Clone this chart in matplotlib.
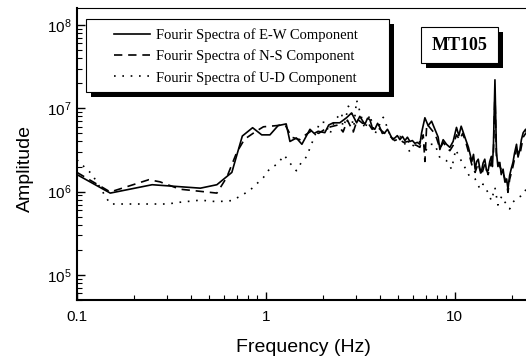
import matplotlib
matplotlib.use("Agg")
import matplotlib.pyplot as plt
from matplotlib.patches import Rectangle
from matplotlib.ticker import NullFormatter

plt.rcParams["font.family"] = ["Liberation Sans", "DejaVu Sans"]
plt.rcParams["mathtext.default"] = "regular"

# E-W component (Hz, amplitude)
freq_ew = [0.10, 0.15, 0.25, 0.45, 0.55, 0.66, 0.75, 0.85, 0.95, 1.05, 1.16, 1.28, 1.34, 1.45, 1.55,
           1.71, 1.80, 1.89, 2.05, 2.15, 2.27, 2.46, 2.67, 2.84, 3.02, 3.14, 3.34, 3.45, 3.55, 3.66,
           3.77, 3.90, 4.01, 4.13, 4.26, 4.40, 4.53, 4.67, 4.81, 4.96, 5.12, 5.28, 5.44, 5.61, 5.78,
           5.96, 6.14, 6.33, 6.53, 6.67, 6.94, 7.22, 7.53, 7.84, 8.16, 8.33, 8.67, 9.03, 9.41, 9.79,
           10.2, 10.5, 10.8, 11.3, 11.8, 12.0, 12.3, 12.55, 12.8, 13.05, 13.3, 13.55, 13.8, 14.1, 14.4,
           14.7, 15.0, 15.3, 15.6, 15.8, 16.0, 16.3, 16.6, 16.9, 17.3, 17.6, 18.0, 18.4, 18.8, 19.1,
           19.5, 19.9, 20.3, 20.7, 21.2, 21.6, 22.1, 22.5, 23.0, 23.7, 24.3, 25.0]
amp_ew = [1.60e6, 0.96e6, 1.21e6, 1.10e6, 1.21e6, 1.70e6, 4.65e6, 5.85e6, 4.80e6, 4.80e6, 6.20e6, 6.50e6, 4.00e6, 4.40e6, 3.70e6,
          5.60e6, 5.00e6, 5.30e6, 5.10e6, 6.30e6, 6.70e6, 6.70e6, 7.70e6, 8.80e6, 6.70e6, 8.00e6, 6.40e6, 7.60e6, 7.30e6, 5.80e6,
          5.60e6, 6.60e6, 5.90e6, 5.00e6, 5.10e6, 5.60e6, 4.90e6, 4.30e6, 4.40e6, 4.70e6, 4.20e6, 4.60e6, 4.10e6, 4.50e6, 4.00e6,
          4.10e6, 3.80e6, 3.90e6, 3.70e6, 5.10e6, 7.70e6, 6.20e6, 7.00e6, 5.60e6, 4.50e6, 3.20e6, 4.20e6, 3.70e6, 3.40e6, 4.00e6,
          5.90e6, 4.70e6, 6.10e6, 4.50e6, 3.40e6, 2.90e6, 2.30e6, 2.80e6, 1.86e6, 2.30e6, 2.45e6, 1.90e6, 1.70e6, 2.20e6, 2.45e6,
          1.80e6, 1.78e6, 2.30e6, 2.65e6, 2.00e6, 3.50e6, 2.20e7, 2.97e6, 2.00e6, 2.24e6, 1.60e6, 1.86e6, 1.30e6, 1.42e6, 1.07e6,
          1.57e6, 1.90e6, 2.24e6, 2.90e6, 3.70e6, 2.60e6, 3.20e6, 4.20e6, 5.10e6, 5.60e6, 4.40e6, 5.00e6]

# N-S component
freq_ns = [0.10, 0.15, 0.24, 0.275, 0.35, 0.55, 0.62, 0.70, 0.77, 0.89, 0.97, 1.14, 1.26, 1.37, 1.51,
           1.62, 1.75, 1.90, 2.05, 2.20, 2.40, 2.56, 2.70, 2.90, 3.05, 3.25, 3.45, 3.65, 3.85, 4.05,
           4.30, 4.55, 4.80, 5.05, 5.35, 5.65, 5.95, 6.25, 6.53, 6.80, 6.94, 7.10, 7.40, 7.70, 8.00,
           8.33, 8.70, 9.03, 9.41, 9.80, 10.2, 10.6, 11.0, 11.4, 11.8, 12.3, 12.8, 13.3, 13.8, 14.4,
           15.0, 15.6, 16.0, 16.3, 16.6, 17.3, 18.0, 18.8, 19.1, 19.5, 20.3, 21.2, 22.1, 23.0, 23.7, 25.0]
amp_ns = [1.70e6, 0.99e6, 1.39e6, 1.31e6, 1.07e6, 0.96e6, 1.48e6, 2.94e6, 4.25e6, 5.33e6, 6.00e6, 6.20e6, 6.40e6, 4.50e6, 4.20e6,
          4.80e6, 5.40e6, 5.00e6, 5.60e6, 6.00e6, 6.30e6, 5.20e6, 7.20e6, 5.20e6, 7.40e6, 6.60e6, 6.80e6, 5.60e6, 6.10e6, 5.50e6,
          4.90e6, 4.60e6, 4.10e6, 4.30e6, 3.90e6, 4.00e6, 3.70e6, 3.60e6, 3.40e6, 4.80e6, 2.30e6, 6.50e6, 5.80e6, 5.20e6, 4.40e6,
          3.30e6, 3.90e6, 3.40e6, 3.10e6, 3.60e6, 4.80e6, 4.20e6, 5.00e6, 4.00e6, 3.00e6, 2.10e6, 1.70e6, 2.20e6, 1.55e6, 2.15e6,
          1.60e6, 2.30e6, 3.00e6, 1.50e7, 2.60e6, 2.00e6, 1.65e6, 1.25e6, 0.98e6, 1.40e6, 2.00e6, 3.20e6, 2.80e6, 4.50e6, 5.00e6, 4.60e6]

# U-D component
freq_ud = [0.10, 0.12, 0.14, 0.15, 0.30, 0.35, 0.45, 0.55, 0.66, 0.73, 0.82, 0.97, 1.05, 1.15, 1.25,
           1.34, 1.45, 1.54, 1.64, 1.78, 1.93, 2.05, 2.18, 2.32, 2.52, 2.56, 2.73, 2.84, 2.90, 3.02,
           3.14, 3.34, 3.55, 3.77, 4.18, 4.35, 4.64, 5.12, 5.55, 5.78, 6.14, 6.80, 6.94, 7.38, 7.84,
           8.33, 9.03, 9.61, 10.1, 10.6, 11.3, 12.0, 12.8, 13.6, 14.1, 15.0, 15.6, 16.3, 16.9, 17.7,
           18.4, 19.1, 19.5, 20.3, 21.6, 23.0, 24.4]
amp_ud = [2.40e6, 1.62e6, 0.91e6, 0.71e6, 0.71e6, 0.745e6, 0.79e6, 0.757e6, 0.78e6, 0.88e6, 1.03e6, 1.48e6, 1.90e6, 2.14e6, 2.74e6,
          2.20e6, 1.78e6, 2.24e6, 2.62e6, 4.20e6, 6.80e6, 6.80e6, 4.90e6, 7.30e6, 8.80e6, 5.30e6, 1.06e7, 9.20e6, 5.30e6, 1.25e7,
          9.20e6, 5.60e6, 8.40e6, 4.90e6, 7.80e6, 6.20e6, 4.20e6, 4.60e6, 3.50e6, 3.00e6, 3.90e6, 4.00e6, 3.00e6, 3.70e6, 3.70e6,
          2.55e6, 2.35e6, 1.86e6, 3.20e6, 2.55e6, 1.95e6, 1.50e6, 1.42e6, 1.07e6, 1.23e6, 0.97e6, 0.78e6, 1.12e6, 0.69e6, 0.88e6,
          0.75e6, 0.67e6, 0.62e6, 0.75e6, 0.85e6, 0.91e6, 1.20e6]

labels = ["Fourir Spectra of E-W Component", "Fourir Spectra of N-S Component", "Fourir Spectra of U-D Component"]
x_ticks = [0.1, 1, 10]
x_ticklabels = ["0.1", "1", "10"]
station = "MT105"

W, H = 526, 363
fig = plt.figure(figsize=(W / 100, H / 100), dpi=100)
# axes run past the right edge of the picture, as in the source
ax = fig.add_axes([77 / W, 1 - 300 / H, 468 / W, 292 / H])

lw = 1.2
h1, = ax.plot(freq_ew, amp_ew, color="k", lw=lw, ls="-", label=labels[0])
h2, = ax.plot(freq_ns, amp_ns, color="k", lw=lw, ls=(0, (5, 3.5)), label=labels[1])
h3, = ax.plot(freq_ud, amp_ud, color="k", lw=lw, ls=(0, (1, 4)), label=labels[2])

ax.set_xscale("log"); ax.set_yscale("log")
ax.set_xlim(0.1, 30)
ax.set_ylim(5e4, 1.6e8)
ax.set_xticks(x_ticks, labels=x_ticklabels)
ax.xaxis.set_minor_formatter(NullFormatter())
ax.tick_params(which="both", direction="in", top=False, right=False, labelsize=11)
ax.tick_params(which="major", length=6, width=1.0)
ax.tick_params(which="minor", length=3.5, width=0.8)
ax.tick_params(axis="x", pad=7)
ax.tick_params(axis="y", pad=4)
for s in ("left", "bottom"):
    ax.spines[s].set_linewidth(1.5)
ax.spines["top"].set_linewidth(0.8)

fig.text(303 / W, 1 - 347 / H, "Frequency (Hz)", ha="center", va="center", fontsize=14)
fig.text(25 / W, 1 - 168 / H, "Amplitude", ha="center", va="center", rotation=90, fontsize=14)

# legend box with hard black shadow
tf = fig.transFigure
fig.add_artist(Rectangle((91 / W, 1 - 97 / H), 303 / W, 73 / H, fc="k", ec="none", transform=tf, zorder=5))
fig.add_artist(Rectangle((86 / W, 1 - 92 / H), 303 / W, 73 / H, fc="white", ec="k", lw=0.8, transform=tf, zorder=6))
leg = fig.legend([h1, h2, h3], labels, loc="upper left", bbox_to_anchor=(114 / W, 1 - 28 / H),
                 bbox_transform=tf, frameon=False, borderpad=0, borderaxespad=0,
                 handlelength=2.5, handletextpad=0.35, labelspacing=0.52,
                 prop={"family": "Liberation Serif", "size": 10.5})
leg.set_zorder(7)

# station tag
fig.add_artist(Rectangle((426 / W, 1 - 68 / H), 77 / W, 36 / H, fc="k", ec="none", transform=tf, zorder=5))
fig.add_artist(Rectangle((421 / W, 1 - 63 / H), 77 / W, 36 / H, fc="white", ec="k", lw=0.8, transform=tf, zorder=6))
fig.text(459.5 / W, 1 - 45 / H, station, ha="center", va="center", fontsize=13,
         family="Liberation Serif", weight="bold", zorder=7)

fig.savefig("out.png", dpi=100)
